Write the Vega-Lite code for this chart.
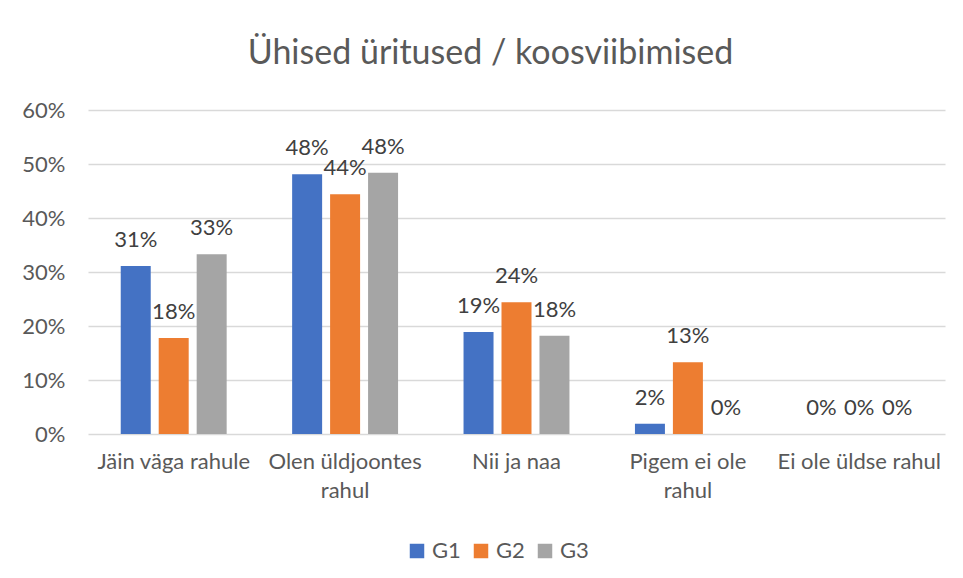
{
  "$schema": "https://vega.github.io/schema/vega-lite/v6.json",
  "width": 857,
  "height": 324,
  "autosize": {"type": "none"},
  "padding": {"left": 88, "top": 110, "right": 18, "bottom": 144},
  "background": "white",
  "title": {
    "text": "Ühised üritused / koosviibimised",
    "font": "Lato",
    "fontSize": 34,
    "fontWeight": "normal",
    "color": "#595959",
    "anchor": "middle",
    "dx": -26,
    "offset": 28
  },
  "data": {
    "values": [
      {"cat": "Jäin väga rahule", "group": "G1", "value": 0.311},
      {"cat": "Jäin väga rahule", "group": "G2", "value": 0.178},
      {"cat": "Jäin väga rahule", "group": "G3", "value": 0.333},
      {"cat": "Olen üldjoontes rahul", "group": "G1", "value": 0.481},
      {"cat": "Olen üldjoontes rahul", "group": "G2", "value": 0.444},
      {"cat": "Olen üldjoontes rahul", "group": "G3", "value": 0.484},
      {"cat": "Nii ja naa", "group": "G1", "value": 0.189},
      {"cat": "Nii ja naa", "group": "G2", "value": 0.244},
      {"cat": "Nii ja naa", "group": "G3", "value": 0.182},
      {"cat": "Pigem ei ole rahul", "group": "G1", "value": 0.019},
      {"cat": "Pigem ei ole rahul", "group": "G2", "value": 0.133},
      {"cat": "Pigem ei ole rahul", "group": "G3", "value": 0.0},
      {"cat": "Ei ole üldse rahul", "group": "G1", "value": 0.0},
      {"cat": "Ei ole üldse rahul", "group": "G2", "value": 0.0},
      {"cat": "Ei ole üldse rahul", "group": "G3", "value": 0.0}
    ]
  },
  "encoding": {
    "x": {
      "field": "cat",
      "type": "nominal",
      "sort": null,
      "title": null,
      "scale": {"paddingInner": 0.382, "paddingOuter": 0.191},
      "axis": {
        "labelAngle": 0,
        "labelFont": "Lato",
        "labelFontSize": 22,
        "labelColor": "#595959",
        "labelPadding": 17,
        "labelLineHeight": 29,
        "labelBaseline": "top",
        "labelLimit": 300,
        "ticks": false,
        "domain": false,
        "labelExpr": "datum.value == 'Olen üldjoontes rahul' ? ['Olen üldjoontes', 'rahul'] : datum.value == 'Pigem ei ole rahul' ? ['Pigem ei ole', 'rahul'] : datum.value"
      }
    },
    "xOffset": {
      "field": "group",
      "type": "nominal",
      "scale": {"paddingInner": 0.21, "paddingOuter": 0}
    },
    "y": {
      "field": "value",
      "type": "quantitative",
      "title": null,
      "scale": {"domain": [0, 0.6]},
      "axis": {
        "values": [0, 0.1, 0.2, 0.3, 0.4, 0.5, 0.6],
        "format": ".0%",
        "labelFont": "Lato",
        "labelFontSize": 22,
        "labelColor": "#595959",
        "labelPadding": 23,
        "ticks": false,
        "domain": false,
        "gridColor": "#d9d9d9",
        "gridWidth": 1.5
      }
    }
  },
  "layer": [
    {
      "mark": {"type": "bar"},
      "encoding": {
        "color": {
          "field": "group",
          "type": "nominal",
          "title": null,
          "scale": {"domain": ["G1", "G2", "G3"], "range": ["#4472C4", "#ED7D31", "#A5A5A5"]},
          "legend": {
            "orient": "none",
            "legendX": 318,
            "legendY": 430,
            "direction": "horizontal",
            "symbolType": "square",
            "symbolSize": 210,
            "symbolStrokeWidth": 0,
            "labelFont": "Lato",
            "labelFontSize": 22,
            "labelColor": "#595959",
            "labelOffset": 4,
            "columnPadding": 9
          }
        }
      }
    },
    {
      "mark": {"type": "text", "baseline": "alphabetic", "dy": -19, "font": "Lato", "fontSize": 22, "color": "#404040"},
      "encoding": {
        "text": {"field": "value", "type": "quantitative", "format": ".0%"}
      }
    }
  ],
  "config": {
    "view": {"stroke": null}
  }
}
